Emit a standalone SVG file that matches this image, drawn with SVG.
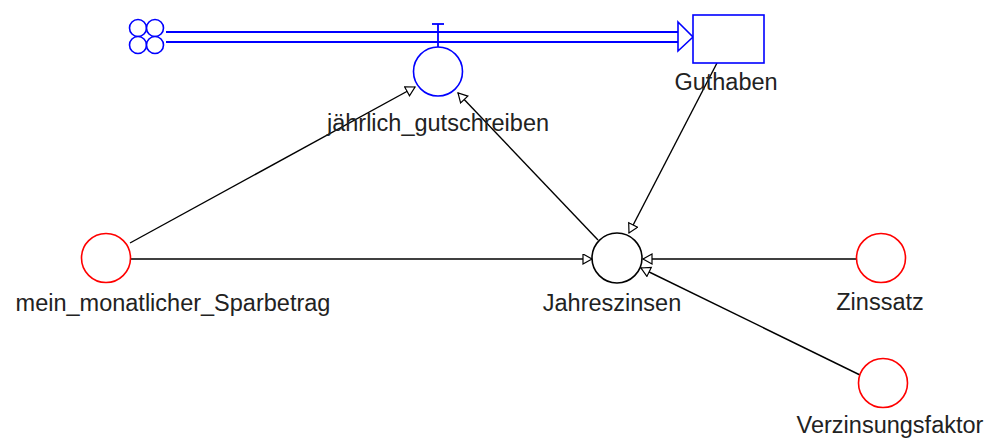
<svg xmlns="http://www.w3.org/2000/svg" width="994" height="439" viewBox="0 0 994 439">
<defs>
<style>
text{font-family:"Liberation Sans",Arial,sans-serif;font-size:23.5px;fill:#222;text-anchor:middle}
.blue{fill:#fff;stroke:#0000ff;stroke-width:1.6}
.red{fill:#fff;stroke:#ff0000;stroke-width:1.6}
.aux{fill:#fff;stroke:#000;stroke-width:1.6}
.link{fill:none;stroke:#000;stroke-width:1.4}
.pipe{fill:none;stroke:#0000ff;stroke-width:1.8}
</style>
<marker id="arr" markerUnits="userSpaceOnUse" markerWidth="14" markerHeight="14" refX="10" refY="5.5" orient="auto">
<path d="M1,0.5 L10,5.5 L1,10.5 Z" fill="#fff" stroke="#000" stroke-width="1.2"/>
</marker>
</defs>
<g id="connectors">
<line class="link" x1="130" y1="243" x2="415" y2="87" marker-end="url(#arr)"/>
<line class="link" x1="131" y1="259" x2="592" y2="259" marker-end="url(#arr)"/>
<line class="link" x1="598" y1="240" x2="458" y2="93" marker-end="url(#arr)"/>
<line class="link" x1="717" y1="63" x2="629" y2="233" marker-end="url(#arr)"/>
<line class="link" x1="857" y1="259" x2="643" y2="259" marker-end="url(#arr)"/>
<line class="link" x1="860" y1="375" x2="641" y2="268" marker-end="url(#arr)"/>
</g>
<g id="flow-pipe">
<line class="pipe" x1="166" y1="32" x2="678" y2="32"/>
<line class="pipe" x1="166" y1="42" x2="678" y2="42"/>
<path class="blue" d="M678,22 L693,37 L678,51 Z"/>
</g>
<g id="cloud">
<circle class="blue" cx="138" cy="28" r="8.5"/>
<circle class="blue" cx="155" cy="28" r="8.5"/>
<circle class="blue" cx="138" cy="45" r="8.5"/>
<circle class="blue" cx="155" cy="45" r="8.5"/>
</g>
<g id="jaehrlich_gutschreiben">
<line x1="432" y1="24" x2="444" y2="24" stroke="#0000ff" stroke-width="1.8"/>
<line x1="438" y1="24" x2="438" y2="47" stroke="#0000ff" stroke-width="1.8"/>
<circle class="blue" cx="438" cy="71.5" r="24.5"/>
<text x="438" y="131">jährlich_gutschreiben</text>
</g>
<g id="Guthaben">
<rect class="blue" x="693" y="15" width="71" height="48"/>
<text x="726" y="90">Guthaben</text>
</g>
<g id="Jahreszinsen">
<circle class="aux" cx="617" cy="258" r="25"/>
<text x="612" y="311">Jahreszinsen</text>
</g>
<g id="mein_monatlicher_Sparbetrag">
<circle class="red" cx="106" cy="258" r="24.5"/>
<text x="173" y="311">mein_monatlicher_Sparbetrag</text>
</g>
<g id="Zinssatz">
<circle class="red" cx="881" cy="258" r="24.5"/>
<text x="880" y="310">Zinssatz</text>
</g>
<g id="Verzinsungsfaktor">
<circle class="red" cx="883" cy="383" r="24.5"/>
<text x="890" y="433">Verzinsungsfaktor</text>
</g>
</svg>
